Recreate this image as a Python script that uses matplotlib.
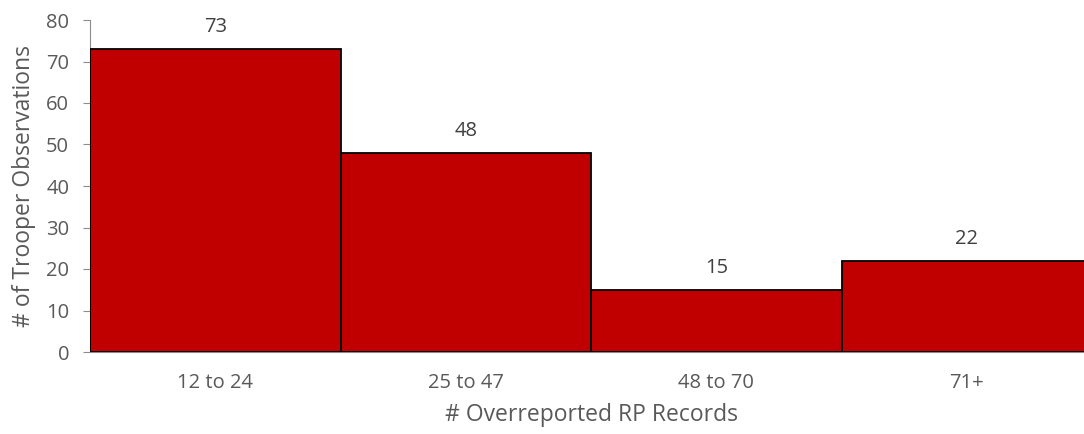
import numpy as np
import matplotlib.pyplot as plt

plt.rcParams['font.family'] = ['Open Sans', 'DejaVu Sans']

# Histogram bins and counts
bins = ['12 to 24', '25 to 47', '48 to 70', '71+']
counts = [73, 48, 15, 22]

fig = plt.figure(figsize=(10.84, 4.34), dpi=100)
# axes runs a little past the right edge of the figure
ax = fig.add_axes([90 / 1084, (434 - 352) / 434, 1002 / 1084, 332 / 434])

x = np.arange(len(bins))
bars = ax.bar(x, counts, width=1.0, color='#C00000', edgecolor='black', linewidth=1.3, zorder=3)

for xi, c in zip(x, counts):
    ax.text(xi, c + 2.8, str(c), ha='center', va='bottom', fontsize=14.5, color='#404040')

ax.set_xlim(-0.5, len(bins) - 0.5)
ax.set_ylim(0, 80)
ax.set_yticks(range(0, 81, 10))
ax.set_xticks(x)
ax.set_xticklabels(bins)

gray = '#595959'
for s in ['top', 'right']:
    ax.spines[s].set_visible(False)
ax.spines['left'].set_color('#8c8c8c')
ax.spines['bottom'].set_color('#8c8c8c')
ax.tick_params(axis='y', colors=gray, labelsize=14.5, length=5, color='#8c8c8c', pad=10)
ax.tick_params(axis='x', colors=gray, labelsize=14.5, length=0, pad=15)

ax.set_xlabel('# Overreported RP Records', fontsize=16.5, color=gray, labelpad=7)
ax.set_ylabel('# of Trooper Observations', fontsize=16.5, color=gray, labelpad=7)

fig.savefig('out.png', dpi=100)
